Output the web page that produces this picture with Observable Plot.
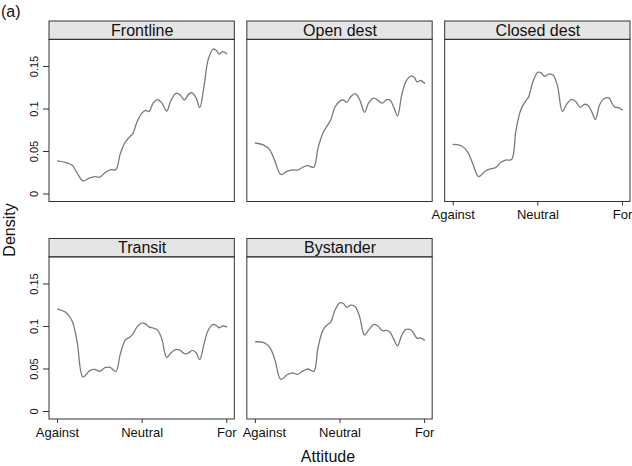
<!DOCTYPE html>
<html>
<head>
<meta charset="utf-8">
<script src="https://cdn.jsdelivr.net/npm/d3@7"></script>
<script src="https://cdn.jsdelivr.net/npm/@observablehq/plot@0.6"></script>
<style>
  html, body { margin: 0; padding: 0; background: white; }
  #chart { width: 632px; height: 466px; }
</style>
</head>
<body>
<div id="chart"></div>
<script>
// ---- data ----
const panels = ["Frontline", "Open dest", "Closed dest", "Transit", "Bystander"];

// attitude positions: -1 = Against, 0 = Neutral, 1 = For
const attitude = [-1, -0.9, -0.83, -0.77, -0.70, -0.62, -0.56, -0.50, -0.44, -0.38, -0.31,
  -0.26, -0.20, -0.14, -0.11, -0.06, 0, 0.04, 0.08, 0.13, 0.18, 0.23, 0.29, 0.34, 0.40,
  0.45, 0.50, 0.55, 0.59, 0.64, 0.68, 0.73, 0.78, 0.84, 0.88, 0.91, 0.95, 1.0];

const frontline = [0.039, 0.037, 0.034, 0.025, 0.0155, 0.019, 0.0205, 0.020, 0.025, 0.0285, 0.0288,
  0.047, 0.061, 0.068, 0.071, 0.085, 0.0955, 0.0985, 0.097, 0.107, 0.111, 0.1075, 0.0975, 0.110, 0.1185,
  0.1165, 0.1105, 0.1175, 0.119, 0.1125, 0.1015, 0.126, 0.158, 0.1705, 0.1685, 0.1645, 0.1675, 0.165];

const openDest = [0.060, 0.0575, 0.052, 0.039, 0.023, 0.027, 0.0283, 0.0282, 0.0315, 0.0333, 0.0315,
  0.054, 0.072, 0.082, 0.087, 0.102, 0.1095, 0.1105, 0.108, 0.1148, 0.118, 0.1115, 0.096, 0.1075, 0.1128,
  0.110, 0.1068, 0.111, 0.1105, 0.101, 0.0917, 0.1165, 0.1325, 0.139, 0.137, 0.132, 0.1335, 0.1303];

const closedDest = [0.0583, 0.0565, 0.0495, 0.036, 0.0205, 0.027, 0.0297, 0.031, 0.037, 0.040, 0.0406,
  0.074, 0.0995, 0.110, 0.114, 0.1315, 0.1432, 0.1425, 0.1385, 0.141, 0.140, 0.128, 0.0972, 0.1055, 0.1112,
  0.1085, 0.1018, 0.1055, 0.1045, 0.096, 0.0875, 0.105, 0.112, 0.113, 0.106, 0.1022, 0.1015, 0.0988];

const transit = [0.1205, 0.1165, 0.107, 0.083, 0.0406, 0.048, 0.0495, 0.0472, 0.0515, 0.052, 0.0472,
  0.0669, 0.0839, 0.088, 0.091, 0.0996, 0.1043, 0.103, 0.0995, 0.0982, 0.096, 0.086, 0.0635, 0.069, 0.073,
  0.072, 0.068, 0.069, 0.072, 0.069, 0.061, 0.079, 0.0955, 0.1024, 0.1008, 0.0985, 0.1005, 0.0996];

const bystander = [0.082, 0.081, 0.0755, 0.061, 0.0378, 0.0435, 0.0455, 0.0437, 0.0475, 0.050, 0.0472,
  0.075, 0.096, 0.1028, 0.105, 0.119, 0.128, 0.127, 0.1225, 0.125, 0.1232, 0.112, 0.090, 0.096, 0.1025,
  0.1005, 0.095, 0.0955, 0.0935, 0.0839, 0.0772, 0.0898, 0.0965, 0.0958, 0.0905, 0.086, 0.0866, 0.0839];

const xTicks = [-1, 0, 1];
const xTickLabels = ["Against", "Neutral", "For"];
const yTicks = [0, 0.05, 0.1, 0.15];

// ---- build tables ----
const series = [frontline, openDest, closedDest, transit, bystander];
const facets = panels.map((p, i) => ({panel: p, col: i % 3, row: Math.floor(i / 3)}));
const rows = facets.flatMap((f, i) =>
  attitude.map((a, j) => ({...f, attitude: a, density: series[i][j]})));

// x tick labels go on facets with nothing below them
const hasFacet = (c, r) => facets.some(g => g.col === c && g.row === r);
const labelled = facets.filter(f => !hasFacet(f.col, f.row + 1));
const isLabelled = (c, r) => labelled.some(g => g.col === c && g.row === r);
const xLabelRows = labelled.flatMap(f => xTicks.map((t, k) => ({
  col: f.col, row: f.row, x: t, label: xTickLabels[k],
  // the left label is nudged right when the panel to its left also carries labels
  nudge: k === 0 && isLabelled(f.col - 1, f.row)
})));

const xDomain = [-1.095, 1.095];
const yBottom = -0.0094;   // bottom of panel box
const panelTop = 0.1813;   // top of panel box / bottom of strip
const yTop = 0.2029;       // top of strip
const border = "#333333";
const ink = "#111111";

const chart = Plot.plot({
  width: 632,
  height: 466,
  marginLeft: 49,
  marginRight: 2,
  marginTop: 21,
  marginBottom: 47,
  facet: {marginTop: 0, marginRight: 0, marginBottom: 0, marginLeft: 0},
  style: {fontFamily: "'Liberation Sans', Arial, Helvetica, sans-serif", fontSize: "11px", background: "white"},
  fx: {axis: null, domain: [0, 1, 2], paddingInner: 0.0632, paddingOuter: 0, round: false},
  fy: {axis: null, domain: [0, 1], paddingInner: 0.170, paddingOuter: 0, round: false},
  x: {domain: xDomain},
  y: {domain: [yBottom, yTop]},
  marks: [
    // strip
    Plot.rect(facets, {x1: () => xDomain[0], x2: () => xDomain[1], y1: () => panelTop, y2: () => yTop,
      fx: "col", fy: "row", fill: "#e5e5e5", stroke: border, strokeWidth: 1}),
    Plot.text(facets, {y: () => (panelTop + yTop) / 2, text: "panel", fx: "col", fy: "row",
      fontSize: 16, fill: ink}),
    // panel box
    Plot.rect(facets, {x1: () => xDomain[0], x2: () => xDomain[1], y1: () => yBottom, y2: () => panelTop,
      fx: "col", fy: "row", fill: "none", stroke: border, strokeWidth: 1}),
    // density curves
    Plot.line(rows, {x: "attitude", y: "density", fx: "col", fy: "row",
      stroke: "#7a7a7a", strokeWidth: 1.3, curve: "catmull-rom"}),
    // y axis (left column only)
    Plot.axisY({facetAnchor: "left", ticks: yTicks, tickSize: 6, tickPadding: 6, tickRotate: -90,
      tickFormat: d => d === 0 ? "0" : String(d), fontSize: 11, fill: ink, stroke: border, label: null}),
    // x axis ticks (facets with nothing below)
    Plot.axisX({facetAnchor: "bottom-empty", ticks: xTicks, tickSize: 4,
      tickFormat: () => "", stroke: border, label: null}),
    // x tick labels
    Plot.text(xLabelRows.filter(d => !d.nudge), {x: "x", text: "label", fx: "col", fy: "row",
      frameAnchor: "bottom", lineAnchor: "top", dy: 8, fontSize: 13, fill: ink}),
    Plot.text(xLabelRows.filter(d => d.nudge), {x: "x", text: "label", fx: "col", fy: "row",
      frameAnchor: "bottom", lineAnchor: "top", dy: 8, dx: 9, fontSize: 13, fill: ink})
  ]
});

document.getElementById("chart").appendChild(chart);

// overall titles
const svg = d3.select(chart);
svg.append("text").attr("x", 1).attr("y", 17).attr("text-anchor", "start")
  .attr("font-size", 16).attr("fill", ink).text("(a)");
svg.append("text").attr("x", 328).attr("y", 462).attr("text-anchor", "middle")
  .attr("font-size", 16).attr("fill", ink).text("Attitude");
svg.append("text").attr("transform", "translate(15,230) rotate(-90)").attr("text-anchor", "middle")
  .attr("font-size", 16).attr("fill", ink).text("Density");
</script>
</body>
</html>
